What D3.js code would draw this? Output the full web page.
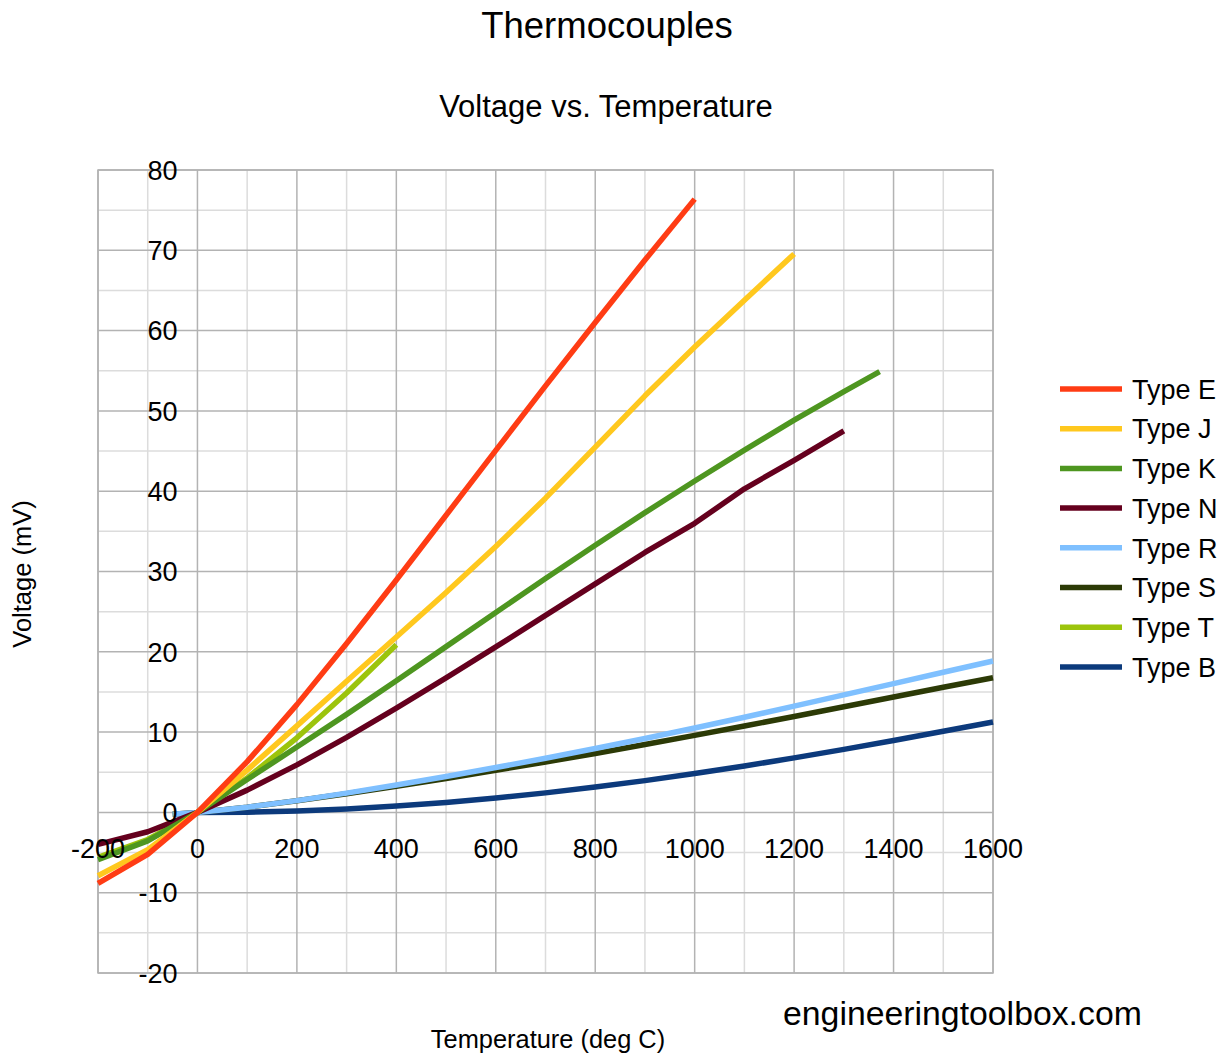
<!DOCTYPE html>
<html><head><meta charset="utf-8">
<script src="https://cdn.jsdelivr.net/npm/d3@7"></script>
<style>body{margin:0;background:#fff}svg{display:block}text{font-family:"Liberation Sans",Arial,sans-serif;fill:#000}</style>
</head><body><svg id="c" width="1232" height="1055"></svg>
<script>
const seriesNames = ["Type E","Type J","Type K","Type N","Type R","Type S","Type T","Type B"];
const seriesColors = ["#ff3c14","#ffc81e","#4e9620","#65001e","#7fc0ff","#2c3a06","#9cc40c","#0c3a7c"];
const tempE = [-200,-100,0,100,200,300,400,500,600,700,800,900,1000];
const voltE = [-8.825,-5.237,0,6.319,13.421,21.036,28.946,37.005,45.093,53.112,61.017,68.787,76.373];
const tempJ = [-200,-100,0,100,200,300,400,500,600,700,800,900,1000,1100,1200];
const voltJ = [-7.890,-4.633,0,5.269,10.779,16.327,21.848,27.393,33.102,39.132,45.494,51.877,57.953,63.792,69.553];
const tempK = [-200,-100,0,100,200,300,400,500,600,700,800,900,1000,1100,1200,1300,1372];
const voltK = [-5.891,-3.554,0,4.096,8.138,12.209,16.397,20.644,24.905,29.129,33.275,37.326,41.276,45.119,48.838,52.410,54.886];
const tempN = [-200,-100,0,100,200,300,400,500,600,700,800,900,1000,1100,1200,1300];
const voltN = [-3.990,-2.407,0,2.774,5.913,9.341,12.974,16.748,20.613,24.527,28.455,32.371,36.0,40.3,43.846,47.513];
const tempR = [-50,0,100,200,300,400,500,600,700,800,900,1000,1100,1200,1300,1400,1500,1600];
const voltR = [-0.226,0,0.647,1.469,2.401,3.408,4.471,5.583,6.743,7.950,9.205,10.506,11.850,13.228,14.629,16.040,17.451,18.849];
const tempS = [-50,0,100,200,300,400,500,600,700,800,900,1000,1100,1200,1300,1400,1500,1600];
const voltS = [-0.236,0,0.646,1.441,2.323,3.259,4.233,5.239,6.275,7.345,8.449,9.587,10.757,11.951,13.159,14.373,15.582,16.777];
const tempT = [-200,-100,0,100,200,300,400];
const voltT = [-5.603,-3.379,0,4.279,9.288,14.862,20.872];
const tempB = [0,100,200,300,400,500,600,700,800,900,1000,1100,1200,1300,1400,1500,1600];
const voltB = [0,0.033,0.178,0.431,0.787,1.242,1.792,2.431,3.154,3.957,4.834,5.780,6.786,7.848,8.956,10.099,11.263];
const xTicks = [-200,0,200,400,600,800,1000,1200,1400,1600];
const yTicks = [-20,-10,0,10,20,30,40,50,60,70,80];
const title = "Thermocouples", subtitle = "Voltage vs. Temperature";
const xTitle = "Temperature (deg C)", yTitle = "Voltage (mV)", credit = "engineeringtoolbox.com";

const temps = [tempE,tempJ,tempK,tempN,tempR,tempS,tempT,tempB];
const volts = [voltE,voltJ,voltK,voltN,voltR,voltS,voltT,voltB];

const svg = d3.select("#c");
const L=98,R=993,T=170,B=973;
const x = d3.scaleLinear().domain([-200,1600]).range([L,R]);
const y = d3.scaleLinear().domain([-20,80]).range([B,T]);

// grid
const g = svg.append("g");
g.selectAll(".vm").data(d3.range(-100,1600,200)).join("line")
  .attr("x1",d=>x(d)).attr("x2",d=>x(d)).attr("y1",T).attr("y2",B).attr("stroke","#dcdcdc").attr("stroke-width",1.5);
g.selectAll(".hm").data(d3.range(-15,80,10)).join("line")
  .attr("y1",d=>y(d)).attr("y2",d=>y(d)).attr("x1",L).attr("x2",R).attr("stroke","#dcdcdc").attr("stroke-width",1.5);
g.selectAll(".vM").data(xTicks).join("line")
  .attr("x1",d=>x(d)).attr("x2",d=>x(d)).attr("y1",T).attr("y2",B).attr("stroke","#b3b3b3").attr("stroke-width",1.5);
g.selectAll(".hM").data(yTicks).join("line")
  .attr("y1",d=>y(d)).attr("y2",d=>y(d)).attr("x1",L).attr("x2",R).attr("stroke","#b3b3b3").attr("stroke-width",1.5);
g.append("rect").attr("x",L).attr("y",T).attr("width",R-L).attr("height",B-T).attr("fill","none").attr("stroke","#b3b3b3").attr("stroke-width",1.5);

// lines (drawn last series first)
const line = d3.line().x(d=>x(d[0])).y(d=>y(d[1]));
const order = d3.range(seriesNames.length).reverse();
svg.append("g").selectAll("path").data(order).join("path")
  .attr("d",i=>line(temps[i].map((t,k)=>[t,volts[i][k]])))
  .attr("fill","none").attr("stroke",i=>seriesColors[i]).attr("stroke-width",5.5).attr("stroke-linejoin","round");

// axis labels
svg.append("g").selectAll("text").data(yTicks).join("text")
  .attr("x",x(0)-20).attr("y",d=>y(d)).attr("dy","0.36em").attr("text-anchor","end")
  .style("font-size","27px").text(d=>d);
svg.append("g").selectAll("text").data(xTicks).join("text")
  .attr("x",d=>x(d)).attr("y",y(0)+46).attr("text-anchor","middle")
  .style("font-size","27px").text(d=>d);

// titles
svg.append("text").attr("x",607).attr("y",38).attr("text-anchor","middle").style("font-size","36.5px").text(title);
svg.append("text").attr("x",606).attr("y",117).attr("text-anchor","middle").style("font-size","31px").text(subtitle);
svg.append("text").attr("x",548).attr("y",1048).attr("text-anchor","middle").style("font-size","25.4px").text(xTitle);
svg.append("text").attr("transform","translate(31,574) rotate(-90)").attr("text-anchor","middle").style("font-size","25.5px").text(yTitle);
svg.append("text").attr("x",783).attr("y",1025).style("font-size","33.8px").text(credit);

// legend
const lg = svg.append("g").selectAll("g").data(seriesNames).join("g")
  .attr("transform",(d,i)=>`translate(1060,${389+i*39.7})`);
lg.append("line").attr("x1",0).attr("x2",62).attr("stroke",(d,i)=>seriesColors[i]).attr("stroke-width",5.5);
lg.append("text").attr("x",72).attr("dy","0.36em").style("font-size","27px").text(d=>d);
</script></body></html>
